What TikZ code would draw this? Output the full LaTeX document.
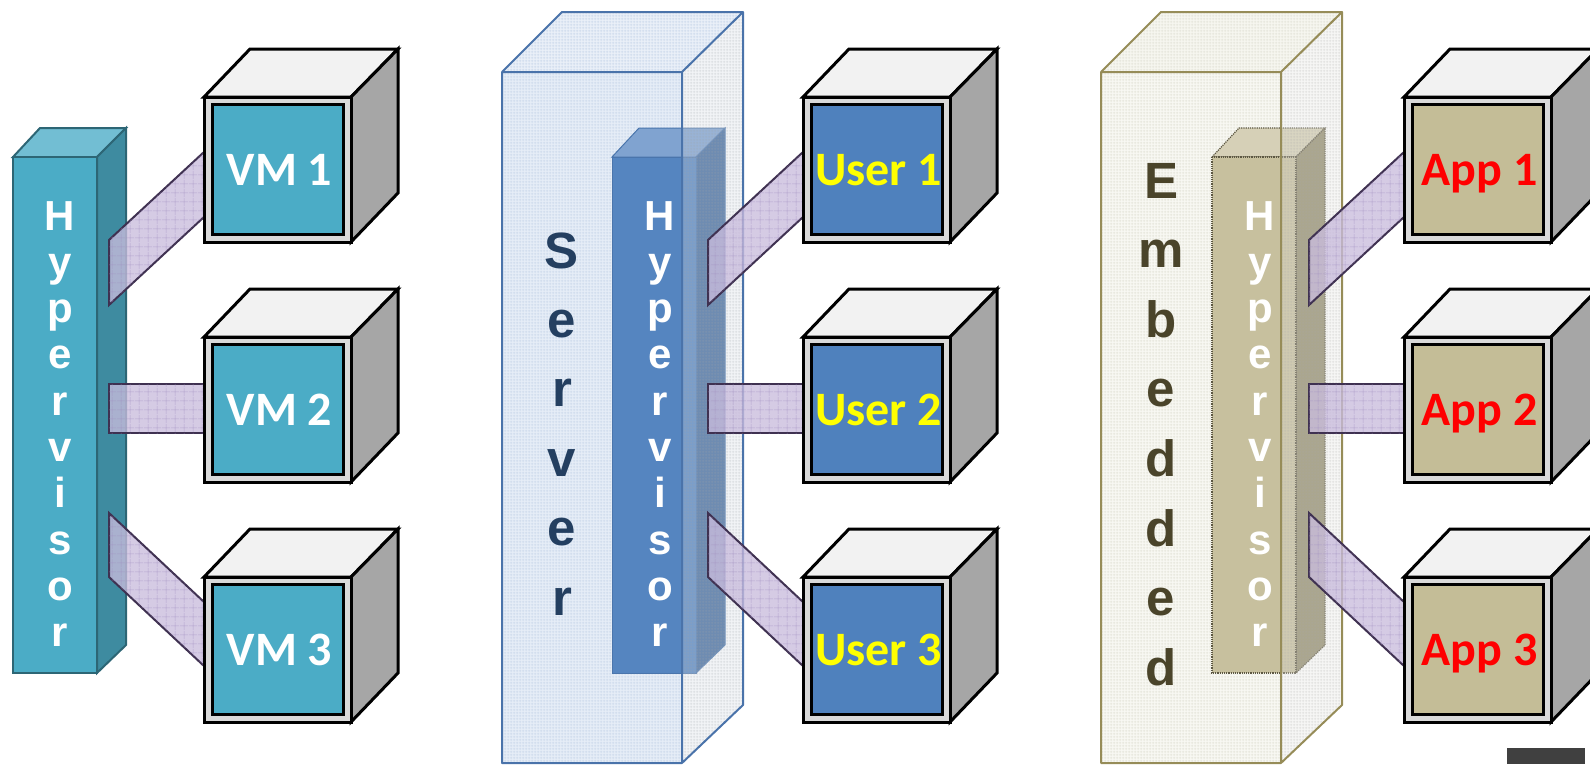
\documentclass[tikz,border=0pt]{standalone}
\usepackage{fontspec}
\setmainfont{Liberation Sans}
\newfontfamily\carl{Carlito}
\usetikzlibrary{patterns.meta}

\definecolor{vmfill}{HTML}{4BACC6}
\definecolor{userfill}{HTML}{4F81BD}
\definecolor{appfill}{HTML}{C4BD97}
\definecolor{ctop}{HTML}{F2F2F2}
\definecolor{cside}{HTML}{A6A6A6}
\definecolor{cbezel}{HTML}{D9D9D9}
\definecolor{hAfront}{HTML}{4BACC6}
\definecolor{hAside}{HTML}{3E8BA0}
\definecolor{hAtop}{HTML}{72BED3}
\definecolor{hAedge}{HTML}{2D6675}
\definecolor{hBfront}{HTML}{5585C0}
\definecolor{hBside}{HTML}{436B9E}
\definecolor{hBtop}{HTML}{80A3D0}
\definecolor{hBedge}{HTML}{4A75AC}
\definecolor{hCfront}{HTML}{C7C09E}
\definecolor{hCside}{HTML}{948D6E}
\definecolor{hCtop}{HTML}{D6D0B7}
\definecolor{hCedge}{HTML}{5C5742}
\definecolor{srvfront}{HTML}{E6EDF7}
\definecolor{srvtop}{HTML}{EAF0F8}
\definecolor{srvside}{HTML}{D3D9E2}
\definecolor{srvedge}{HTML}{4A73AA}
\definecolor{srvgrid}{HTML}{C9D7EA}
\definecolor{srvtext}{HTML}{243F60}
\definecolor{embfront}{HTML}{F8F8F3}
\definecolor{embtop}{HTML}{F6F6F0}
\definecolor{embside}{HTML}{E2E2DE}
\definecolor{embedge}{HTML}{968C58}
\definecolor{embgrid}{HTML}{E2E2D6}
\definecolor{embtext}{HTML}{4A442A}
\definecolor{connfill}{HTML}{C9BCDD}
\definecolor{connedge}{HTML}{3F3151}
\definecolor{conngridc}{HTML}{9F8DBF}
\definecolor{userlabel}{HTML}{FFFF00}
\definecolor{applabel}{HTML}{FF0000}
\definecolor{cornerbar}{HTML}{404040}

\tikzdeclarepattern{name=cgrid, type=uncolored,
  bounding box={(0pt,0pt) and (9pt,9pt)}, tile size={(9pt,9pt)},
  code={\draw[line width=0.6pt] (0pt,4.5pt)--(9pt,4.5pt) (4.5pt,0pt)--(4.5pt,9pt);}}
\tikzdeclarepattern{name=fgrid, type=uncolored,
  bounding box={(0pt,0pt) and (3pt,3pt)}, tile size={(3pt,3pt)},
  code={\draw[line width=0.4pt] (0pt,1.5pt)--(3pt,1.5pt) (1.5pt,0pt)--(1.5pt,3pt);}}

\tikzset{
  cubetop/.style={fill=ctop, draw=black, line width=3pt},
  cubeside/.style={fill=cside, draw=black, line width=3pt},
  cubefront/.style={fill=cbezel, draw=black, line width=3pt},
  boxlabel/.style={font=\carl\bfseries\fontsize{48}{52}\selectfont, inner sep=0pt, anchor=base},
  hyptext/.style={font=\bfseries\fontsize{42}{46}\selectfont, text=white, inner sep=0pt, anchor=base},
  bigtext/.style={font=\bfseries\fontsize{51}{60}\selectfont, inner sep=0pt, anchor=base},
  conn/.style={fill=connfill, fill opacity=0.78, draw=connedge, draw opacity=1, line width=2pt},
  conngrid/.style={pattern=cgrid, pattern color=conngridc, fill opacity=0.6},
}

% hypervisor bar: #1 x offset, #2 colour prefix, #3 edge options
\newcommand\hyperbar[3]{%
  \begin{scope}[shift={(#1,157)}]
    \filldraw[fill=#2top, draw=#2edge, #3] (0,0)--(27,-29)--(113,-29)--(84,0)--cycle;
    \filldraw[fill=#2side, draw=#2edge, #3] (84,0)--(113,-29)--(113,488)--(84,516)--cycle;
    \filldraw[fill=#2front, draw=#2edge, #3] (0,0) rectangle (84,516);
  \end{scope}}
% hypervisor letters: #1 x centre, #2 name prefix
\newcommand\hyperletters[2]{%
  \foreach \c [count=\i from 0] in {H,y,p,e,r,v,i,s,o,r}
    \node[hyptext] (#2L\i) at (#1, 230+46.3*\i) {\c};}
% big transparent box, back layer: #1 x, #2 prefix
\newcommand\bigboxback[2]{%
  \begin{scope}[shift={(#1,72)}]
    \fill[#2front] (0,0) rectangle (180,691);
    \fill[pattern=fgrid, pattern color=#2grid] (0,0) rectangle (180,691);
    \fill[#2top] (0,0)--(60,-60)--(241,-60)--(180,0)--cycle;
    \fill[pattern=fgrid, pattern color=#2grid] (0,0)--(60,-60)--(241,-60)--(180,0)--cycle;
  \end{scope}}
% big transparent box, front layer
\newcommand\bigboxfront[2]{%
  \begin{scope}[shift={(#1,72)}]
    \fill[#2side, fill opacity=0.3] (180,0)--(241,-60)--(241,633)--(180,691)--cycle;
    \fill[pattern=fgrid, pattern color=#2side!75!black, fill opacity=0.35] (180,0)--(241,-60)--(241,633)--(180,691)--cycle;
    \draw[#2edge, line width=2pt, line join=round]
      (0,0) rectangle (180,691)
      (0,0)--(60,-60)--(241,-60)--(180,0)
      (241,-60)--(241,633)--(180,691);
  \end{scope}}
% connectors: #1 x offset, #2 name prefix
\newcommand\connectors[2]{%
  \begin{scope}[shift={(#1,0)}]
    \coordinate (#2a1) at (109,240); \coordinate (#2a2) at (109,305);
    \coordinate (#2b1) at (204,152); \coordinate (#2b2) at (204,217);
    \coordinate (#2c1) at (109,384); \coordinate (#2c2) at (109,433);
    \coordinate (#2d1) at (204,384); \coordinate (#2d2) at (204,433);
    \coordinate (#2e1) at (109,513); \coordinate (#2e2) at (109,577);
    \coordinate (#2f1) at (204,602); \coordinate (#2f2) at (204,666);
    \filldraw[conn] (#2a1)--(#2a2)--(#2b2)--(#2b1)--cycle;
    \fill[conngrid] (#2a1)--(#2a2)--(#2b2)--(#2b1)--cycle;
    \filldraw[conn] (#2c1)--(#2c2)--(#2d2)--(#2d1)--cycle;
    \fill[conngrid] (#2c1)--(#2c2)--(#2d2)--(#2d1)--cycle;
    \filldraw[conn] (#2e1)--(#2e2)--(#2f2)--(#2f1)--cycle;
    \fill[conngrid] (#2e1)--(#2e2)--(#2f2)--(#2f1)--cycle;
  \end{scope}}
% cube: #1 x, #2 y, #3 screen fill, #4 text colour, #5 text, #6 name
\newcommand\vmcube[6]{%
  \begin{scope}[shift={(#1,#2)}]
    \filldraw[cubetop] (0,0)--(46,-48)--(194,-48)--(147,0)--cycle;
    \filldraw[cubeside] (147,0)--(194,-48)--(194,96)--(147,145)--cycle;
    \filldraw[cubefront] (0,0) rectangle (147,145);
    \filldraw[fill=#3, draw=black, line width=3pt] (8,7) rectangle (139,137);
    \node[boxlabel, text=#4] (#6) at (75.5,88) {#5};
  \end{scope}}

\begin{document}
\begin{tikzpicture}[x=1pt,y=-1pt]
\useasboundingbox (0,0) rectangle (1590,764);
\clip (0,0) rectangle (1590,764);

% ---------- left group: plain hypervisor ----------
\hyperbar{13}{hA}{line width=2pt}
\hyperletters{60}{hypA}
\connectors{0}{gA}
\vmcube{204}{97}{vmfill}{white}{VM 1}{vm1}
\vmcube{204}{337}{vmfill}{white}{VM 2}{vm2}
\vmcube{204}{577}{vmfill}{white}{VM 3}{vm3}

% ---------- middle group: server ----------
\bigboxback{502}{srv}
\hyperbar{612}{hB}{line width=1pt}
\bigboxfront{502}{srv}
\hyperletters{660}{hypB}
\foreach \c [count=\i from 0] in {S,e,r,v,e,r}
  \node[bigtext, text=srvtext] (srvL\i) at (562, 268+69.4*\i) {\c};
\connectors{599}{gB}
\vmcube{803}{97}{userfill}{userlabel}{User 1}{user1}
\vmcube{803}{337}{userfill}{userlabel}{User 2}{user2}
\vmcube{803}{577}{userfill}{userlabel}{User 3}{user3}

% ---------- right group: embedded ----------
\bigboxback{1101}{emb}
\hyperbar{1212}{hC}{line width=1.2pt, densely dotted}
\bigboxfront{1101}{emb}
\hyperletters{1260}{hypC}
\foreach \c [count=\i from 0] in {E,m,b,e,d,d,e,d}
  \node[bigtext, text=embtext] (embL\i) at (1161, 198+69.6*\i) {\c};
\connectors{1200}{gC}
\vmcube{1404}{97}{appfill}{applabel}{App 1}{app1}
\vmcube{1404}{337}{appfill}{applabel}{App 2}{app2}
\vmcube{1404}{577}{appfill}{applabel}{App 3}{app3}

\fill[cornerbar] (1507,748) rectangle (1585,764);
\end{tikzpicture}
\end{document}
